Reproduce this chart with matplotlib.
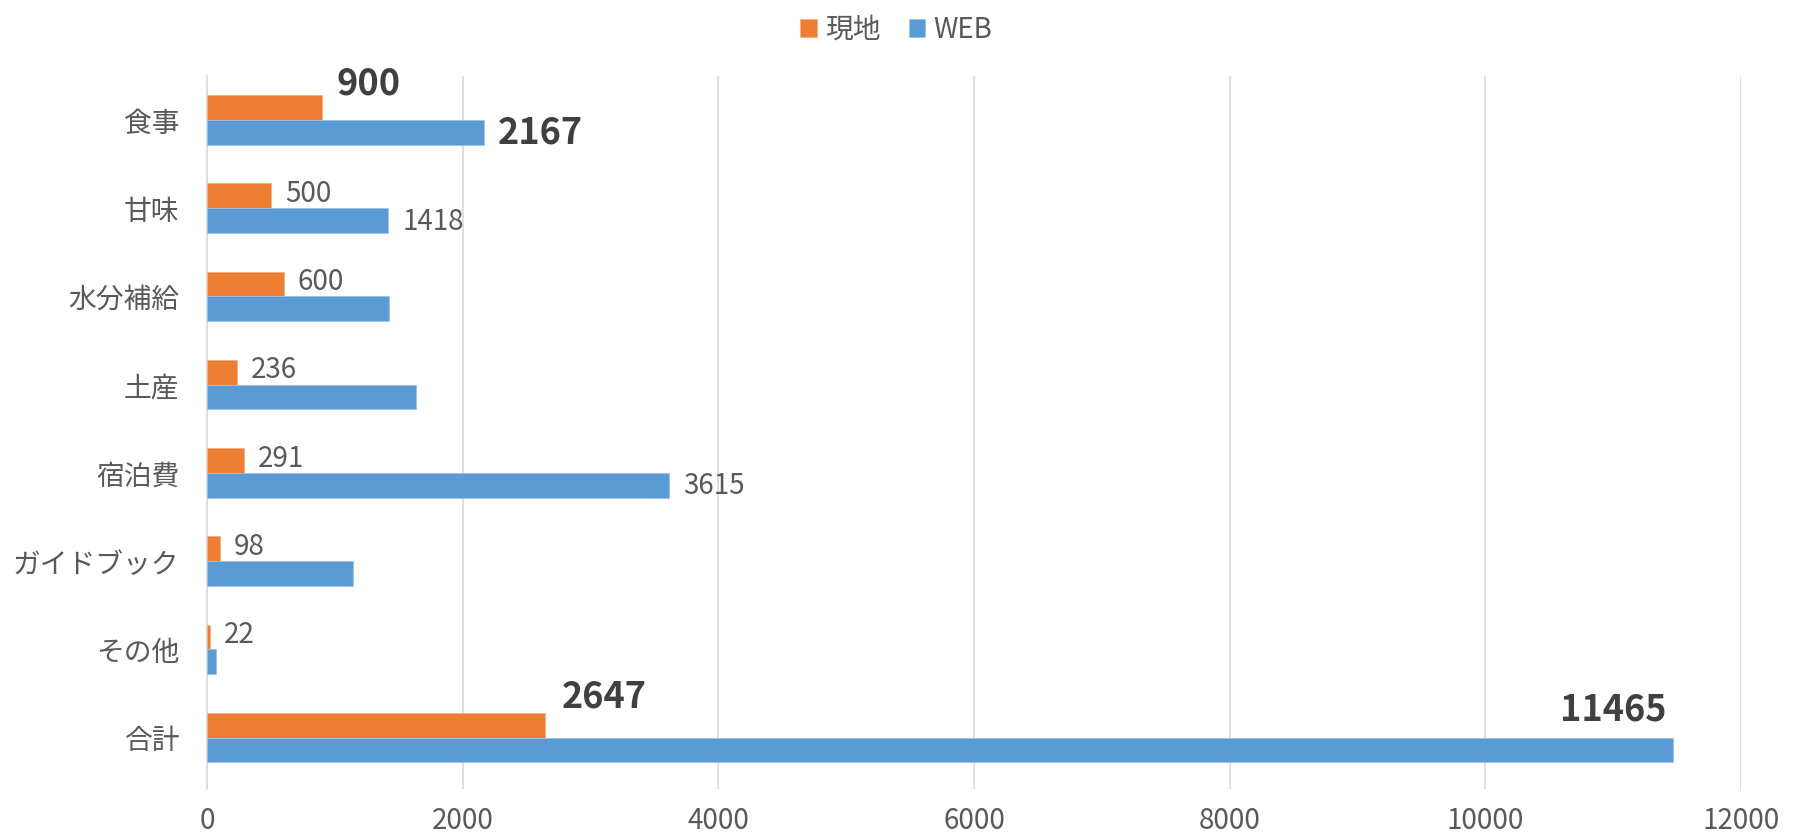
import numpy as np
import matplotlib.pyplot as plt

plt.rcParams['font.family'] = ['Noto Sans CJK JP', 'DejaVu Sans']

# data, top to bottom as shown in the chart
categories = ['食事', '甘味', '水分補給', '土産', '宿泊費', 'ガイドブック', 'その他', '合計']
genchi = [900, 500, 600, 236, 291, 98, 22, 2647]
web = [2167, 1418, 1420, 1635, 3615, 1140, 70, 11465]
# which bars get a value label (None = no label)
genchi_labels = ['900', '500', '600', '236', '291', '98', '22', '2647']
web_labels = ['2167', '1418', None, None, '3615', None, None, '11465']
bold_labels = {'900', '2167', '2647', '11465'}

ORANGE = '#ED7D31'
BLUE = '#5B9BD5'
TEXT = '#595959'

fig = plt.figure(figsize=(17.93, 8.33), dpi=100)
ax = fig.add_axes([0.1155, 0.053, 0.8555, 0.856])

y = np.arange(len(categories))
h = 0.28
b1 = ax.barh(y - h / 2, genchi, height=h, color=ORANGE, edgecolor='#F4B183', linewidth=0.6, label='現地', zorder=3)
b2 = ax.barh(y + h / 2, web, height=h, color=BLUE, edgecolor='#9DC3E6', linewidth=0.6, label='WEB', zorder=3)

ax.set_ylim(len(categories) - 0.42, -0.5)
ax.set_xlim(0, 12000)
ax.set_xticks(np.arange(0, 12001, 2000))
ax.set_yticks(y)
ax.set_yticklabels(categories)
ax.tick_params(axis='both', length=0, labelsize=20, colors=TEXT)
ax.tick_params(axis='x', pad=12)
ax.tick_params(axis='y', pad=20)
ax.grid(axis='x', color='#D9D9D9', linewidth=1.2, zorder=0)
for s in ['top', 'right', 'bottom']:
    ax.spines[s].set_visible(False)
ax.spines['left'].set_color('#D9D9D9')
ax.spines['left'].set_linewidth(1.2)


def put_label(bar, text, dx, dy, ha='left'):
    w = bar.get_width()
    yc = bar.get_y() + bar.get_height() / 2
    bold = text in bold_labels
    ax.annotate(text, (w, yc), xytext=(dx, dy), textcoords='offset pixels',
                ha=ha, va='center', fontsize=26 if bold else 20,
                fontweight='bold' if bold else 'normal',
                color='#404040' if bold else TEXT, zorder=4)


for bar, t in zip(b1, genchi_labels):
    if t is None:
        continue
    if t == '900':
        put_label(bar, t, 14, 24)
    elif t == '2647':
        put_label(bar, t, 16, 28)
    else:
        put_label(bar, t, 14, 2)

for bar, t in zip(b2, web_labels):
    if t is None:
        continue
    if t == '11465':
        put_label(bar, t, -6, 40, ha='right')
    else:
        put_label(bar, t, 14, -1)

leg = fig.legend(loc='upper center', bbox_to_anchor=(0.5, 1.012), ncol=2, frameon=False,
                 fontsize=20, handlelength=0.6, handleheight=0.6, handletextpad=0.3,
                 columnspacing=1.0)
for t in leg.get_texts():
    t.set_color(TEXT)

fig.savefig('out.png', dpi=100)
